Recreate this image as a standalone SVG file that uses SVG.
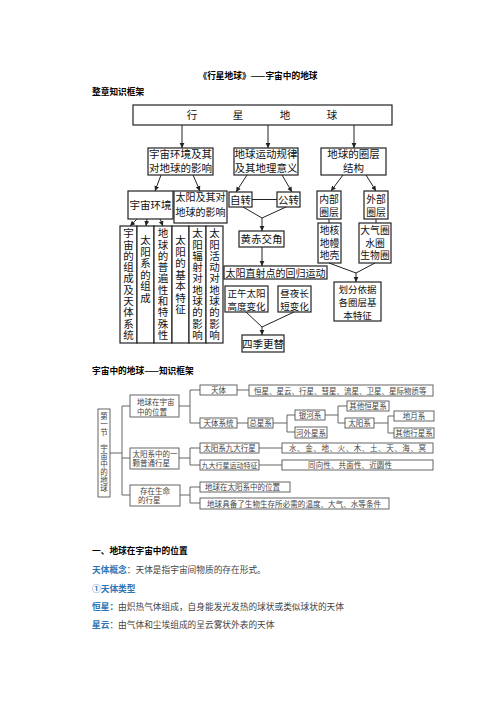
<svg xmlns="http://www.w3.org/2000/svg" width="496" height="702" viewBox="0 0 496 702">
<defs>
<marker id="ah" markerUnits="userSpaceOnUse" markerWidth="6" markerHeight="6" refX="5" refY="3" orient="auto"><path d="M0,0.6 L5,3 L0,5.4 z" fill="#222"/></marker>
</defs>
<style>
.b{fill:#fff;stroke:#222;stroke-width:1.2}
.t{font-family:"Noto Sans CJK SC","Noto Sans CJK JP",sans-serif;font-size:10.5px;fill:#111;text-anchor:middle}
.k{font-size:9.8px}
.k2{font-size:9.5px}
.v{font-family:"Noto Sans CJK SC","Noto Sans CJK JP",sans-serif;font-size:10.5px;fill:#111;writing-mode:vertical-rl;letter-spacing:0.8px}
.c line,.c polyline{stroke:#222;stroke-width:1;fill:none}
.c2 line{stroke:#555;stroke-width:0.9;fill:none}
.b2{fill:#fff;stroke:#555;stroke-width:0.9}
.s{font-family:"Noto Sans CJK SC","Noto Sans CJK JP",sans-serif;font-size:7.5px;fill:#444}
.m{text-anchor:middle}
.h{font-family:"Noto Sans CJK SC","Noto Sans CJK JP",sans-serif;font-weight:bold;font-size:8.7px;fill:#000}
.p{font-family:"Noto Sans CJK SC","Noto Sans CJK JP",sans-serif;font-size:8.7px;fill:#444}
.bl{fill:#2E75B6;font-weight:bold}
</style>
<rect width="496" height="702" fill="#fff"/>

<text class="h m" x="258" y="79" text-anchor="middle">《行星地球》——宇宙中的地球</text>
<text class="h" x="92" y="95">整章知识框架</text>

<!-- Diagram 1 -->
<g id="top"><rect class="b" x="133" y="105" width="259" height="20"/>
<text class="t"><tspan x="192" y="119">行</tspan><tspan x="238" y="119">星</tspan><tspan x="285" y="119">地</tspan><tspan x="332" y="119">球</tspan></text></g>

<g id="n-yuzhou"><rect class="b" x="148" y="148" width="65" height="27"/>
<text class="t"><tspan x="180.5" y="157.5">宇宙环境及其</tspan><tspan x="180.5" y="172">对地球的影响</tspan></text></g>
<g id="n-yundong"><rect class="b" x="234" y="148" width="64" height="27"/>
<text class="t"><tspan x="266" y="157.5">地球运动规律</tspan><tspan x="266" y="172">及其地理意义</tspan></text></g>
<g id="n-quanceng"><rect class="b" x="321" y="148" width="65" height="27"/>
<text class="t"><tspan x="353.5" y="157.5">地球的圈层</tspan><tspan x="353.5" y="172">结构</tspan></text></g>

<g id="n-yzhj"><rect class="b" x="128" y="191" width="45" height="28"/>
<text class="t" x="150.5" y="209">宇宙环境</text></g>
<g id="n-tyjq"><rect class="b" x="174" y="191" width="53" height="32"/>
<text class="t" style="font-size:10px"><tspan x="200.5" y="201">太阳及其对</tspan><tspan x="200.5" y="215.5">地球的影响</tspan></text></g>

<g id="c1"><rect class="b" x="120" y="226" width="17" height="117"/>
<text class="v" x="128.5" y="228">宇宙的组成及天体系统</text></g>
<g id="c2"><rect class="b" x="137" y="226" width="17" height="117"/>
<text class="v" x="145.5" y="235" style="letter-spacing:1px">太阳系的组成</text></g>
<g id="c3"><rect class="b" x="154" y="226" width="18" height="117"/>
<text class="v" x="163" y="228">地球的普遍性和特殊性</text></g>
<g id="c4"><rect class="b" x="172" y="226" width="17" height="117"/>
<text class="v" x="180.5" y="235" style="letter-spacing:1px">太阳的基本特征</text></g>
<g id="c5"><rect class="b" x="189" y="226" width="17" height="117"/>
<text class="v" x="197.5" y="228">太阳辐射对地球的影响</text></g>
<g id="c6"><rect class="b" x="206" y="226" width="17" height="117"/>
<text class="v" x="214.5" y="228">太阳活动对地球的影响</text></g>

<g id="n-zizhuan"><rect class="b" x="229" y="192" width="23" height="15"/><text class="t" x="240.5" y="203.5">自转</text></g>
<g id="n-gongzhuan"><rect class="b" x="277" y="192" width="23" height="15"/><text class="t" x="288.5" y="203.5">公转</text></g>
<g id="n-huangchi"><rect class="b" x="239" y="231" width="45" height="16"/><text class="t" x="261.5" y="243">黄赤交角</text></g>
<g id="n-zhishe"><rect class="b" x="224" y="266" width="103" height="13"/><text class="t" x="275.5" y="276.5" style="font-size:10px">太阳直射点的回归运动</text></g>
<g id="n-zhengwu"><rect class="b" x="225" y="286" width="43" height="26"/><text class="t k2"><tspan x="246.5" y="296.6">正午太阳</tspan><tspan x="246.5" y="310">高度变化</tspan></text></g>
<g id="n-zhouye"><rect class="b" x="278" y="286" width="33" height="26"/><text class="t k2"><tspan x="294.5" y="296.6">昼夜长</tspan><tspan x="294.5" y="310">短变化</tspan></text></g>
<g id="n-siji"><rect class="b" x="242" y="335" width="42" height="17"/><text class="t" x="263" y="347.5">四季更替</text></g>

<g id="n-neibu"><rect class="b" x="317" y="191" width="24" height="28"/><text class="t k"><tspan x="329" y="203">内部</tspan><tspan x="329" y="216">圈层</tspan></text></g>
<g id="n-waibu"><rect class="b" x="364" y="191" width="24" height="28"/><text class="t k"><tspan x="376" y="203">外部</tspan><tspan x="376" y="216">圈层</tspan></text></g>
<g id="n-dihe"><rect class="b" x="318" y="223" width="23" height="40"/><text class="t k"><tspan x="329.5" y="234">地核</tspan><tspan x="329.5" y="246.5">地幔</tspan><tspan x="329.5" y="259">地壳</tspan></text></g>
<g id="n-daqi"><rect class="b" x="359" y="223" width="32" height="40"/><text class="t k"><tspan x="375" y="234">大气圈</tspan><tspan x="375" y="246.5">水圈</tspan><tspan x="375" y="259">生物圈</tspan></text></g>
<g id="n-huafen"><rect class="b" x="334" y="282" width="47" height="39"/><text class="t k2"><tspan x="357.5" y="292.6">划分依据</tspan><tspan x="357.5" y="305.6">各圈层基</tspan><tspan x="357.5" y="318.6">本特征</tspan></text></g>

<g id="connectors1" class="c">
<line x1="182" y1="125" x2="182" y2="148" marker-end="url(#ah)"/>
<line x1="268" y1="125" x2="268" y2="148" marker-end="url(#ah)"/>
<line x1="354" y1="125" x2="354" y2="148" marker-end="url(#ah)"/>
<line x1="161" y1="175" x2="155" y2="191" marker-end="url(#ah)"/>
<line x1="193" y1="175" x2="200" y2="191" marker-end="url(#ah)"/>
<line x1="247" y1="175" x2="236" y2="192" marker-end="url(#ah)"/>
<line x1="282" y1="175" x2="292" y2="192" marker-end="url(#ah)"/>
<line x1="343" y1="175" x2="331" y2="191" marker-end="url(#ah)"/>
<line x1="366" y1="175" x2="376" y2="191" marker-end="url(#ah)"/>
<line x1="137" y1="219" x2="130" y2="226" marker-end="url(#ah)"/>
<line x1="147" y1="219" x2="146" y2="226" marker-end="url(#ah)"/>
<line x1="160" y1="219" x2="163" y2="226" marker-end="url(#ah)"/>
<line x1="252" y1="199.5" x2="277" y2="199.5"/>
<polyline points="243,207 262,218 286,207"/>
<line x1="262" y1="218" x2="262" y2="231" marker-end="url(#ah)"/>
<line x1="262" y1="247" x2="262" y2="266" marker-end="url(#ah)"/>
<polyline points="246,312 262,327 294,312"/>
<line x1="262" y1="327" x2="262" y2="335" marker-end="url(#ah)"/>
<line x1="329" y1="219" x2="329" y2="223"/>
<line x1="376" y1="219" x2="376" y2="223"/>
<polyline points="329,263 356,273 375,263"/>
<line x1="356" y1="273" x2="356" y2="282" marker-end="url(#ah)"/>
</g>

<!-- Diagram 2 -->
<text class="h" x="92" y="374">宇宙中的地球——知识框架</text>

<g id="d2-root"><rect class="b2" x="98" y="409" width="12" height="88"/>
<text class="s" x="104" y="412" style="writing-mode:vertical-rl;letter-spacing:0.5px">第一节　宇宙中的地球</text></g>
<g id="d2-weizhi"><rect class="b2" x="130" y="395" width="49" height="22"/><text class="s"><tspan x="137" y="405">地球在宇宙</tspan><tspan x="137" y="415">中的位置</tspan></text></g>
<g id="d2-putong"><rect class="b2" x="130" y="448" width="49" height="21"/><text class="s"><tspan x="132.5" y="456.5">太阳系中的一</tspan><tspan x="132.5" y="466.2">颗普通行星</tspan></text></g>
<g id="d2-shengming"><rect class="b2" x="130" y="485" width="50" height="21"/><text class="s"><tspan x="140" y="493.5">存在生命</tspan><tspan x="138" y="503.2">的行星</tspan></text></g>

<g id="d2-tianti"><rect class="b2" x="200" y="385" width="37" height="10"/><text class="s m" x="218.5" y="393">天体</text></g>
<g id="d2-tianti-items"><rect class="b2" x="249" y="385" width="184" height="11"/><text class="s" x="254" y="393.5">恒星、星云、行星、彗星、流星、卫星、星际物质等</text></g>
<g id="d2-xitong"><rect class="b2" x="200" y="418" width="37" height="10"/><text class="s m" x="218.5" y="426">天体系统</text></g>
<g id="d2-zong"><rect class="b2" x="248" y="418" width="25" height="10"/><text class="s m" x="260.5" y="426">总星系</text></g>
<g id="d2-yinhe"><rect class="b2" x="295" y="410" width="30" height="10"/><text class="s m" x="310" y="418">银河系</text></g>
<g id="d2-hewai"><rect class="b2" x="295" y="427" width="32" height="11"/><text class="s m" x="311" y="435.5">河外星系</text></g>
<g id="d2-qitahengxing"><rect class="b2" x="347" y="401" width="42" height="10"/><text class="s m" x="368" y="409">其他恒星系</text></g>
<g id="d2-taiyangxi"><rect class="b2" x="345" y="418" width="29" height="10"/><text class="s m" x="359.5" y="426">太阳系</text></g>
<g id="d2-diyue"><rect class="b2" x="394" y="411" width="40" height="10"/><text class="s m" x="414" y="419">地月系</text></g>
<g id="d2-qitaxingxing"><rect class="b2" x="394" y="428" width="40" height="10"/><text class="s m" x="414" y="436">其他行星系</text></g>

<g id="d2-jiuda"><rect class="b2" x="200" y="443" width="59" height="10"/><text class="s m" x="229.5" y="451">太阳系九大行星</text></g>
<g id="d2-jiuda-items"><rect class="b2" x="282" y="443" width="151" height="10"/><text class="s" x="289" y="451" textLength="137" lengthAdjust="spacing">水、金、地、火、木、土、天、海、冥</text></g>
<g id="d2-yundong"><rect class="b2" x="200" y="460" width="59" height="10"/><text class="s m" x="229.5" y="468" style="font-size:7px">九大行星运动特征</text></g>
<g id="d2-yundong-items"><rect class="b2" x="282" y="460" width="151" height="10"/><text class="s" x="308" y="468" textLength="84" lengthAdjust="spacing">同向性、共面性、近圆性</text></g>

<g id="d2-weizhi2"><rect class="b2" x="200" y="482" width="90" height="10"/><text class="s" x="205" y="490">地球在太阳系中的位置</text></g>
<g id="d2-tiaojian"><rect class="b2" x="200" y="498" width="189" height="11"/><text class="s" x="207" y="506.5" textLength="174" lengthAdjust="spacing">地球具备了生物生存所必需的温度、大气、水等条件</text></g>

<g id="connectors2" class="c2">
<line x1="110" y1="453" x2="122" y2="453"/>
<line x1="122" y1="406" x2="122" y2="495"/>
<line x1="122" y1="406" x2="130" y2="406"/>
<line x1="122" y1="458" x2="130" y2="458"/>
<line x1="122" y1="495" x2="130" y2="495"/>
<line x1="179" y1="406" x2="190" y2="406"/>
<line x1="190" y1="390" x2="190" y2="423"/>
<line x1="190" y1="390" x2="200" y2="390"/>
<line x1="190" y1="423" x2="200" y2="423"/>
<line x1="237" y1="390" x2="249" y2="390"/>
<line x1="237" y1="423" x2="248" y2="423"/>
<line x1="273" y1="423" x2="287" y2="423"/>
<line x1="287" y1="415" x2="287" y2="432"/>
<line x1="287" y1="415" x2="295" y2="415"/>
<line x1="287" y1="432" x2="295" y2="432"/>
<line x1="325" y1="415" x2="338" y2="415"/>
<line x1="338" y1="406" x2="338" y2="423"/>
<line x1="338" y1="406" x2="347" y2="406"/>
<line x1="338" y1="423" x2="345" y2="423"/>
<line x1="374" y1="423" x2="388" y2="423"/>
<line x1="388" y1="416" x2="388" y2="433"/>
<line x1="388" y1="416" x2="394" y2="416"/>
<line x1="388" y1="433" x2="394" y2="433"/>
<line x1="179" y1="458" x2="190" y2="458"/>
<line x1="190" y1="448" x2="190" y2="465"/>
<line x1="190" y1="448" x2="200" y2="448"/>
<line x1="190" y1="465" x2="200" y2="465"/>
<line x1="259" y1="448" x2="282" y2="448"/>
<line x1="259" y1="465" x2="282" y2="465"/>
<line x1="180" y1="495" x2="190" y2="495"/>
<line x1="190" y1="487" x2="190" y2="503"/>
<line x1="190" y1="487" x2="200" y2="487"/>
<line x1="190" y1="503" x2="200" y2="503"/>
</g>

<!-- Body text -->
<text class="h" x="92" y="554">一、地球在宇宙中的位置</text>
<text class="p" x="92" y="573"><tspan class="bl">天体概念</tspan>：天体是指宇宙间物质的存在形式。</text>
<text class="p bl" x="92" y="592">①天体类型</text>
<text class="p" x="92" y="610"><tspan class="bl">恒星：</tspan>由炽热气体组成，自身能发光发热的球状或类似球状的天体</text>
<text class="p" x="92" y="628"><tspan class="bl">星云</tspan>：由气体和尘埃组成的呈云雾状外表的天体</text>
</svg>
